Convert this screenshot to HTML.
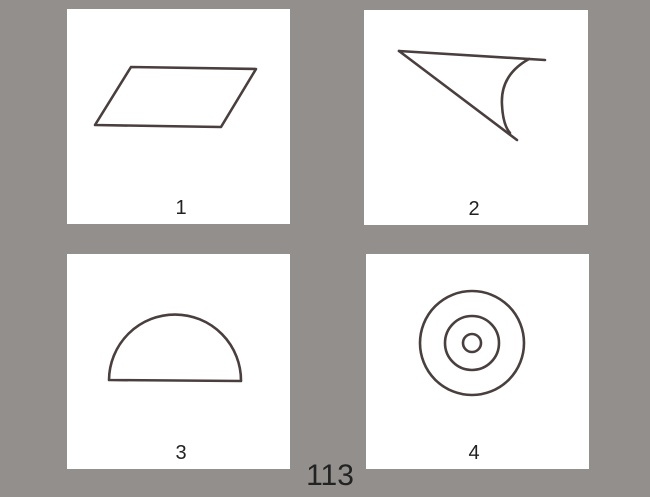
<!DOCTYPE html>
<html><head><meta charset="utf-8"><style>
html,body{margin:0;padding:0;background:#928f8c;}
svg{display:block}
</style></head><body>
<svg width="650" height="497" viewBox="0 0 650 497">
<rect width="650" height="497" fill="#928f8c"/>
<g stroke="#4a3f3f" stroke-width="2.6" fill="none" stroke-linecap="round" stroke-linejoin="round">
<g>
<rect x="67" y="9" width="223" height="215" fill="#fff" stroke="none"/>
<polygon points="131,67 256,69 221,127 95,125"/>
</g>
<g>
<rect x="364" y="10" width="224" height="215" fill="#fff" stroke="none"/>
<line x1="399" y1="51" x2="545" y2="60"/>
<line x1="399" y1="51" x2="517" y2="140"/>
<path d="M529,59 Q500,75 502,105 Q503,125 510,133"/>
</g>
<g>
<rect x="67" y="254" width="223" height="215" fill="#fff" stroke="none"/>
<path d="M109,380 A66,66 0 0 1 241,381 Z"/>
</g>
<g>
<rect x="366" y="254" width="223" height="215" fill="#fff" stroke="none"/>
<circle cx="472" cy="343" r="52"/>
<circle cx="472" cy="343" r="27"/>
<circle cx="472" cy="343" r="9"/>
</g>
</g>
<g font-family="'Liberation Sans', sans-serif" fill="#222" text-anchor="middle">
<text x="181" y="214" font-size="20">1</text>
<text x="474" y="215" font-size="20">2</text>
<text x="181" y="459" font-size="20">3</text>
<text x="474" y="459" font-size="20">4</text>
<text x="330" y="485" font-size="30">113</text>
</g>
</svg>
</body></html>
